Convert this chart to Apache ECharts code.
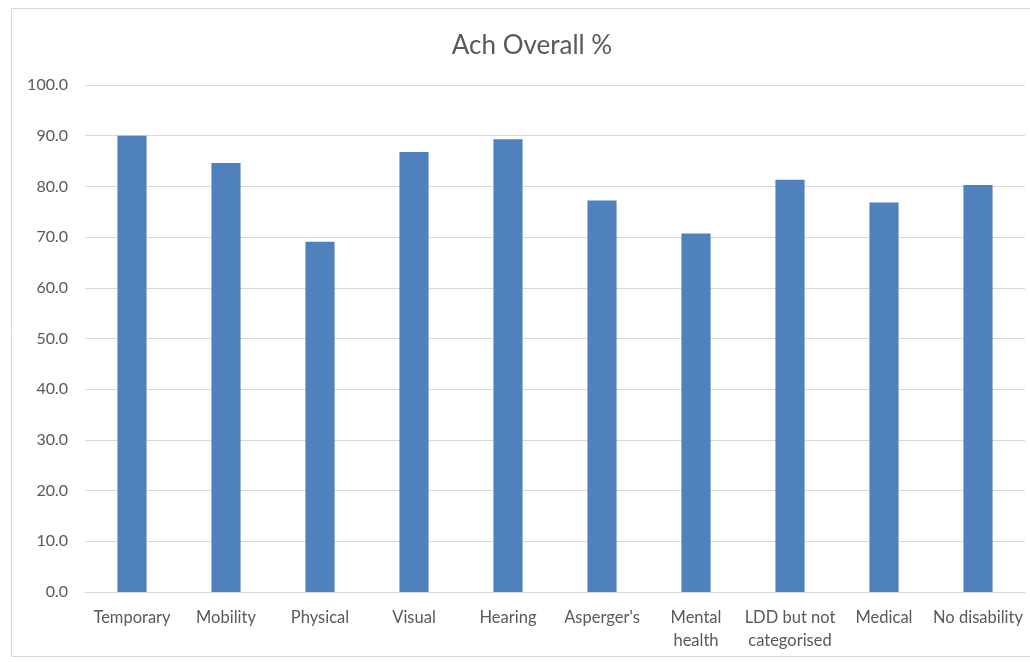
<!DOCTYPE html>
<html>
<head>
<meta charset="utf-8">
<script src="https://cdn.jsdelivr.net/npm/echarts@6/dist/echarts.min.js"></script>
<style>
html,body{margin:0;padding:0;background:#fff;}
#chart{width:1030px;height:662px;}
</style>
</head>
<body>
<div id="chart"></div>
<script>
const categories = ['Temporary', 'Mobility', 'Physical', 'Visual', 'Hearing', "Asperger's", 'Mental\nhealth', 'LDD but not\ncategorised', 'Medical', 'No disability'];
const values = [90.0, 84.6, 69.1, 86.8, 89.3, 77.2, 70.7, 81.3, 76.8, 80.3];
const yTicks = [0, 10, 20, 30, 40, 50, 60, 70, 80, 90, 100];

const chart = echarts.init(document.getElementById('chart'), null, {renderer: 'canvas'});
chart.setOption({
  animation: false,
  backgroundColor: '#ffffff',
  title: {
    text: 'Ach Overall %',
    left: 527,
    textAlign: 'center',
    top: 28,
    textStyle: {fontFamily: 'Lato', fontSize: 26, fontWeight: 'normal', color: '#595959'}
  },
  graphic: [{
    type: 'rect',
    shape: {x: 11.5, y: 8.5, width: 1030, height: 648},
    style: {fill: 'none', stroke: '#d9d9d9', lineWidth: 1},
    silent: true,
    z: -1
  }],
  grid: {left: 85, right: 5, top: 85, bottom: 70, containLabel: false},
  xAxis: {
    type: 'category',
    data: categories,
    axisLine: {lineStyle: {color: '#d9d9d9', width: 1}},
    axisTick: {show: false},
    axisLabel: {interval: 0, fontFamily: 'Lato', fontSize: 16.5, color: '#595959', margin: 14, lineHeight: 23}
  },
  yAxis: {
    type: 'value',
    min: yTicks[0],
    max: yTicks[yTicks.length - 1],
    interval: 10,
    axisLine: {show: false},
    axisTick: {show: false},
    splitLine: {lineStyle: {color: '#d9d9d9', width: 1}},
    axisLabel: {fontFamily: 'Lato', fontSize: 16, color: '#595959', margin: 17,
      formatter: v => v.toFixed(1)}
  },
  series: [{
    type: 'bar',
    data: values,
    barWidth: '31%',
    itemStyle: {color: '#4f81bd'}
  }]
});
</script>
</body>
</html>
